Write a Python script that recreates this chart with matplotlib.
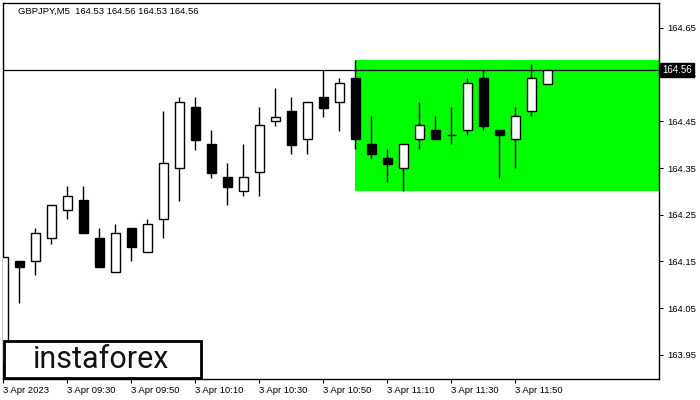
import matplotlib
matplotlib.use("Agg")
import matplotlib.pyplot as plt
import matplotlib.transforms as mtransforms
from matplotlib.patches import Rectangle

# ---------------- data ----------------
symbol_title = "GBPJPY,M5  164.53 164.56 164.53 164.56"
times = ["09:10", "09:15", "09:20", "09:25", "09:30", "09:35", "09:40", "09:45",
         "09:50", "09:55", "10:00", "10:05", "10:10", "10:15", "10:20", "10:25",
         "10:30", "10:35", "10:40", "10:45", "10:50", "10:55", "11:00", "11:05",
         "11:10", "11:15", "11:20", "11:25", "11:30", "11:35", "11:40", "11:45",
         "11:50", "11:55", "12:00"]
opens = [163.930, 164.151, 164.150, 164.200, 164.260, 164.282, 164.200, 164.128,
         164.222, 164.170, 164.240, 164.350, 164.480, 164.401, 164.330, 164.300,
         164.341, 164.450, 164.472, 164.412, 164.502, 164.491, 164.542, 164.401,
         164.371, 164.349, 164.412, 164.431, 164.420, 164.431, 164.542, 164.431,
         164.412, 164.472, 164.530]
highs = [164.159, 164.151, 164.222, 164.270, 164.312, 164.312, 164.222, 164.230,
         164.222, 164.241, 164.472, 164.502, 164.502, 164.432, 164.360, 164.402,
         164.480, 164.521, 164.502, 164.491, 164.560, 164.542, 164.581, 164.462,
         164.391, 164.401, 164.491, 164.462, 164.480, 164.542, 164.562, 164.431,
         164.480, 164.572, 164.560]
lows = [163.900, 164.060, 164.120, 164.187, 164.240, 164.210, 164.139, 164.128,
        164.150, 164.170, 164.199, 164.280, 164.389, 164.329, 164.270, 164.289,
        164.289, 164.441, 164.381, 164.381, 164.460, 164.430, 164.390, 164.370,
        164.319, 164.301, 164.390, 164.412, 164.401, 164.420, 164.431, 164.329,
        164.350, 164.461, 164.530]
closes = [164.159, 164.139, 164.210, 164.270, 164.290, 164.210, 164.139, 164.210,
          164.180, 164.230, 164.360, 164.491, 164.410, 164.340, 164.310, 164.330,
          164.442, 164.460, 164.400, 164.491, 164.479, 164.532, 164.412, 164.381,
          164.359, 164.401, 164.442, 164.412, 164.420, 164.532, 164.441, 164.420,
          164.461, 164.542, 164.560]
current_price = 164.56
zone_start = 22          # candle index where the green zone starts
zone_high = 164.581
zone_low = 164.301
price_ticks = [163.95, 164.05, 164.15, 164.25, 164.35, 164.45, 164.55, 164.65]
price_tick_labels = ["163.95", "164.05", "164.15", "164.25", "164.35", "164.45", "164.55", "164.65"]
time_tick_idx = [0, 4, 8, 12, 16, 20, 24, 28, 32]
time_tick_labels = ["3 Apr 2023", "3 Apr 09:30", "3 Apr 09:50", "3 Apr 10:10",
                    "3 Apr 10:30", "3 Apr 10:50", "3 Apr 11:10", "3 Apr 11:30",
                    "3 Apr 11:50"]

FONT = "Liberation Sans"
FS = 6.6

# ---------------- figure ----------------
W, H = 700, 400
fig = plt.figure(figsize=(7, 4), dpi=100)
fig.patch.set_facecolor("white")
ax_l, ax_r, ax_t, ax_b = 3, 659, 3, 379
ax = fig.add_axes([ax_l / W, 1 - ax_b / H, (ax_r - ax_l) / W, (ax_b - ax_t) / H])
ax.set_facecolor("white")

xmin, xmax = -0.03, 40.97
ymin, ymax = 163.898, 164.7035
ax.set_xlim(xmin, xmax)
ax.set_ylim(ymin, ymax)

# green zone
ax.add_patch(Rectangle((zone_start - 0.03, zone_low), xmax - zone_start + 0.03,
                       zone_high - zone_low, facecolor="#00FF00", edgecolor="none",
                       zorder=1))

# price line
ax.axhline(current_price, color="black", lw=0.9, zorder=2)

# candles
bw = 0.62
for i, (o, h, l, c) in enumerate(zip(opens, highs, lows, closes)):
    ax.vlines(i, l, h, color="black", lw=1.0, zorder=3)
    bottom = min(o, c)
    height = abs(c - o)
    if height < 0.002:
        ax.hlines(o, i - bw / 2, i + bw / 2, color="black", lw=1.0, zorder=4)
        continue
    fc = "white" if c > o else "black"
    ax.add_patch(Rectangle((i - bw / 2, bottom), bw, height, facecolor=fc,
                           edgecolor="black", lw=1.0, zorder=4))

# axes styling
for s in ax.spines.values():
    s.set_color("black")
    s.set_linewidth(1.0)

ax.yaxis.tick_right()
ax.set_yticks(price_ticks)
ax.set_yticklabels(price_tick_labels, fontfamily=FONT)
ax.tick_params(axis="y", direction="out", length=3, width=0.8, pad=3,
               labelsize=FS + 0.2, colors="black")
ax.set_xticks([i - 0.03 for i in time_tick_idx])
ax.set_xticklabels(time_tick_labels, ha="left", fontfamily=FONT)
ax.tick_params(axis="x", direction="out", length=3, width=0.8, pad=2,
               labelsize=FS + 0.2, colors="black")

# current price label
trans = mtransforms.blended_transform_factory(ax.transAxes, ax.transData)
ax.text(1.0 + 3 / 656, current_price, "164.56", transform=trans, color="white",
        fontsize=FS + 0.4, fontfamily=FONT, va="center", ha="left", zorder=20,
        clip_on=False,
        bbox=dict(boxstyle="square,pad=0.2", facecolor="black", edgecolor="black"))

# title
fig.text(18 / W, 1 - 11 / H, symbol_title, fontsize=FS + 0.2, fontfamily=FONT,
         va="center", ha="left", color="black")

# watermark box
fig.patches.append(Rectangle((4 / W, 1 - 378 / H), (201 - 4) / W, (378 - 341) / H,
                             transform=fig.transFigure, facecolor="white",
                             edgecolor="black", lw=2, zorder=30))
fig.text(101 / W, 1 - 360 / H, "instaforex", fontsize=22, family="Roboto",
         fontweight="normal", color="#111111", ha="center", va="center", zorder=31)

fig.savefig("out.png", dpi=100)
